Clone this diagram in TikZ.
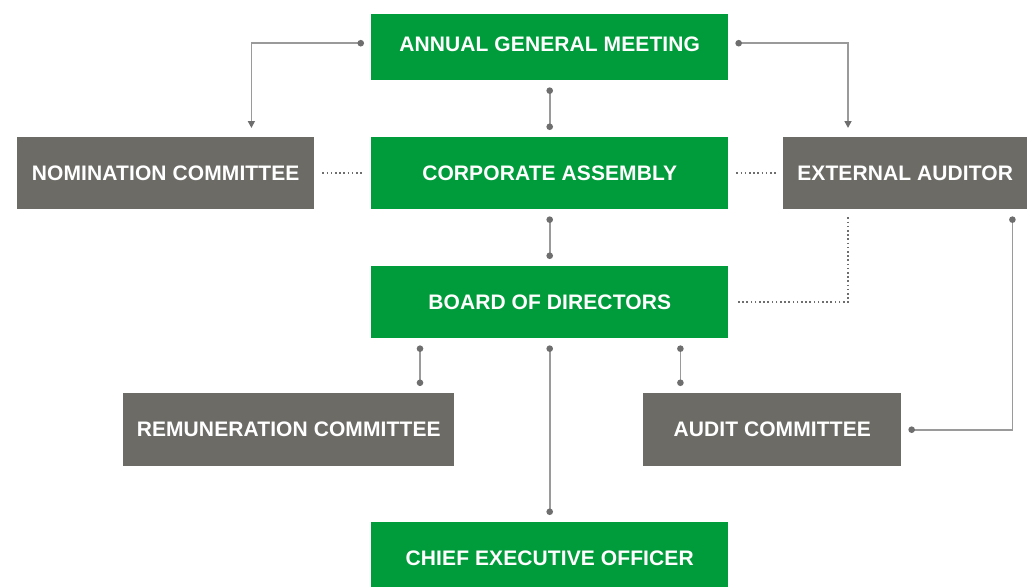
\documentclass[tikz,border=0pt]{standalone}
\usepackage{fontspec}
\setmainfont{Liberation Sans}
\usetikzlibrary{arrows.meta,positioning}
\definecolor{boardgreen}{HTML}{009C3B}
\definecolor{boxgray}{HTML}{6C6B66}
\definecolor{dotgray}{HTML}{6E6E6E}
\definecolor{linegray}{HTML}{9A9A9A}
\newfontfamily\labelfont[LetterSpace=0.5]{Liberation Sans Bold}
\begin{document}
\begin{tikzpicture}[x=1pt,y=-1pt,
  unit/.style={rectangle, inner sep=0pt, text=white,
    font=\labelfont\fontsize{21}{25}\selectfont, anchor=north west},
  greenunit/.style={unit, fill=boardgreen},
  grayunit/.style={unit, fill=boxgray},
  enddot/.tip={Circle[length=6.5pt,width=6.5pt,color=dotgray]},
  endtri/.tip={Triangle[length=7pt,width=7pt,color=dotgray]},
  link/.style={draw=linegray, line width=1.6pt, enddot-enddot,
    shorten <=7pt, shorten >=7pt},
  feed/.style={draw=linegray, line width=1.6pt, enddot-endtri,
    shorten <=7pt, shorten >=9pt},
  dotline/.style={draw=dotgray, line width=1.6pt,
    dash pattern=on 1.6pt off 2.6pt, shorten <=8pt, shorten >=7pt}]
\useasboundingbox (0,0) rectangle (1027,586);

% governance bodies
\node[greenunit, minimum width=357pt, minimum height=66pt] (agm) at (371,14)
  {\raisebox{6pt}{ANNUAL GENERAL MEETING}};
\node[greenunit, minimum width=357pt, minimum height=72pt] (ca) at (371,137)
  {CORPORATE ASSEMBLY};
\node[grayunit, minimum width=297pt, minimum height=72pt] (nom) at (17,137)
  {NOMINATION COMMITTEE};
\node[grayunit, minimum width=244pt, minimum height=72pt] (ea) at (783,137)
  {EXTERNAL AUDITOR};
\node[greenunit, minimum width=357pt, minimum height=72pt] (bod) at (371,266)
  {BOARD OF DIRECTORS};
\node[grayunit, minimum width=331pt, minimum height=73pt] (rem) at (123,393)
  {REMUNERATION COMMITTEE};
\node[grayunit, minimum width=258pt, minimum height=73pt] (aud) at (643,393)
  {AUDIT COMMITTEE};
\node[greenunit, minimum width=357pt, minimum height=72pt] (ceo) at (371,522)
  {CHIEF EXECUTIVE OFFICER};

% reporting lines
\draw[feed] ([yshift=4pt]agm.west) -| ([xshift=-63pt]nom.north east);
\draw[feed] ([yshift=4pt]agm.east) -| ([xshift=65pt]ea.north west);
\draw[link] (agm.south) -- (ca.north);
\draw[link] (ca.south) -- (bod.north);
\draw[link] (bod.south) -- (ceo.north);
\draw[link] ([xshift=49pt]bod.south west) -- ([xshift=49pt]bod.south west |- rem.north);
\draw[link] ([xshift=-48pt]bod.south east) -- ([xshift=-48pt]bod.south east |- aud.north);
\draw[link] (aud.east) -| ([xshift=-15pt]ea.south east);

% advisory relations
\draw[dotline] (nom.east) -- (ca.west);
\draw[dotline] (ca.east) -- (ea.west);
\draw[dotline, shorten >=8pt] ([xshift=65pt]ea.south west) |- (bod.east);
\end{tikzpicture}
\end{document}
